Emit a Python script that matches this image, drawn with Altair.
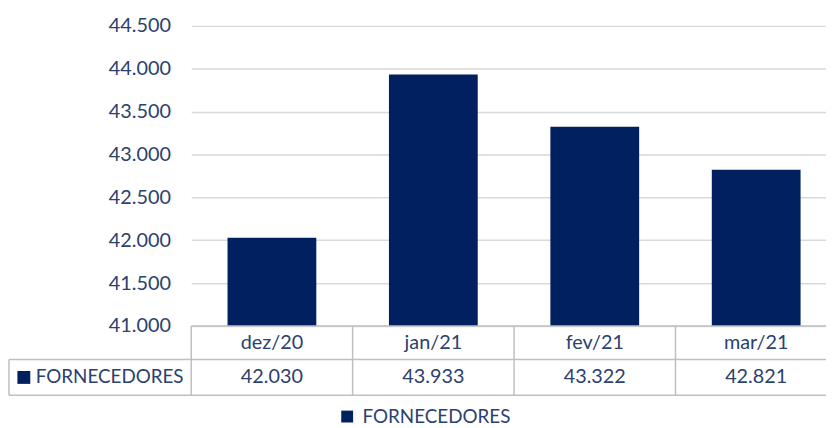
import altair as alt
import pandas as pd

# ---- data ----
months = ["dez/20", "jan/21", "fev/21", "mar/21"]
values = [42030, 43933, 43322, 42821]
series_name = "FORNECEDORES"
y_ticks = [41000, 41500, 42000, 42500, 43000, 43500, 44000, 44500]

df = pd.DataFrame({
    "mes": months,
    "valor": values,
    "serie": [series_name] * len(months),
    "i": list(range(len(months))),
})
hdr = pd.DataFrame({"serie": [series_name]})

FONT = "Lato"
TXT = "#2B4170"
BAR = "#002060"
BORDER = "#BFBFBF"
FS = 20
HALF_BAR = 0.275  # bar covers 55% of its column

PT_FMT = "replace(format({v}, ',.0f'), ',', '.')"

# column index scale: plot area is 641 px; each column 163 px, last one runs past the edge
x_scale = alt.Scale(domain=[-0.5, 3.4325], nice=False, zero=False)
y_scale = alt.Scale(domain=[41000, 44500], zero=False, nice=False)

base = alt.Chart(df).transform_calculate(
    xa=f"datum.i - {HALF_BAR}",
    xb=f"datum.i + {HALF_BAR}",
    edge="datum.i - 0.5",
    lbl=PT_FMT.format(v="datum.valor"),
)

bars = base.mark_bar().encode(
    x=alt.X("xa:Q", scale=x_scale, axis=None),
    x2="xb:Q",
    y=alt.Y(
        "valor:Q",
        scale=y_scale,
        title=None,
        axis=alt.Axis(
            values=y_ticks,
            labelExpr=PT_FMT.format(v="datum.value"),
            ticks=False,
            domain=False,
            labelPadding=21,
            labelFont=FONT,
            labelFontSize=FS,
            labelColor=TXT,
            gridColor="#D9D9D9",
            gridWidth=1.5,
        ),
    ),
    y2=alt.datum(41000),
    color=alt.Color(
        "serie:N",
        scale=alt.Scale(domain=[series_name], range=[BAR]),
        legend=alt.Legend(
            title=None,
            orient="none",
            legendX=148,
            legendY=385,
            symbolType="square",
            symbolSize=144,
            symbolStrokeWidth=0,
            labelFont=FONT,
            labelFontSize=19,
            labelColor=TXT,
            labelOffset=6,
        ),
    ),
)

# data table: column separators
vsep = base.mark_rule(color=BORDER, strokeWidth=1.5).encode(
    x=alt.X("edge:Q", scale=x_scale, axis=None), y=alt.value(303), y2=alt.value(373)
)
one = alt.Chart(hdr)
top_line = one.mark_rule(color=BORDER, strokeWidth=1.5).encode(
    x=alt.value(0), x2=alt.value(641), y=alt.value(303)
)
mid_line = one.mark_rule(color=BORDER, strokeWidth=1.5).encode(
    x=alt.value(-184), x2=alt.value(641), y=alt.value(337)
)
bot_line = one.mark_rule(color=BORDER, strokeWidth=1.5).encode(
    x=alt.value(-184), x2=alt.value(641), y=alt.value(373)
)
left_line = one.mark_rule(color=BORDER, strokeWidth=1.5).encode(
    x=alt.value(-184), y=alt.value(337), y2=alt.value(373)
)

cat_text = base.mark_text(font=FONT, fontSize=FS, color=TXT).encode(
    x=alt.X("i:Q", scale=x_scale, axis=None), y=alt.value(320), text="mes:N"
)
val_text = base.mark_text(font=FONT, fontSize=FS, color=TXT).encode(
    x=alt.X("i:Q", scale=x_scale, axis=None), y=alt.value(355), text="lbl:N"
)

hdr_sq = one.mark_square(size=169, color=BAR, opacity=1).encode(
    x=alt.value(-169), y=alt.value(355)
)
hdr_txt = one.mark_text(font=FONT, fontSize=19, color=TXT, align="left").encode(
    x=alt.value(-157), y=alt.value(355), text="serie:N"
)

chart = (
    alt.layer(bars, vsep, top_line, mid_line, bot_line, left_line,
              cat_text, val_text, hdr_sq, hdr_txt)
    .properties(
        width=641,
        height=303,
        autosize=alt.AutoSizeParams(type="none"),
        padding={"left": 185, "top": 16, "right": 0, "bottom": 101},
    )
    .configure_view(stroke=None)
)

chart.save("out.html", embed_options={"renderer": "svg", "actions": False})
